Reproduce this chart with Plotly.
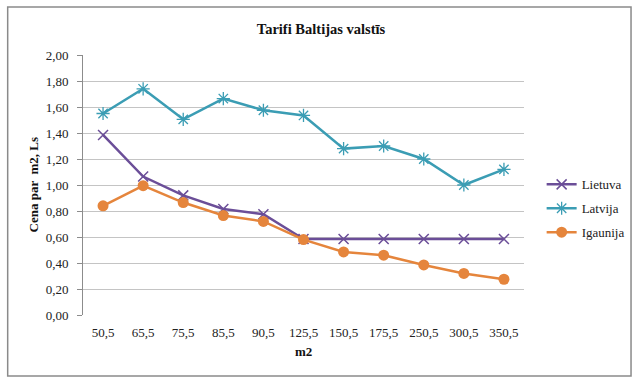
import plotly.graph_objects as go

categories = ["50,5", "65,5", "75,5", "85,5", "90,5", "125,5", "150,5", "175,5", "250,5", "300,5", "350,5"]
lietuva = [1.385, 1.065, 0.92, 0.815, 0.775, 0.585, 0.585, 0.585, 0.585, 0.585, 0.585]
latvija = [1.55, 1.74, 1.505, 1.665, 1.575, 1.535, 1.28, 1.30, 1.20, 1.00, 1.12]
igaunija = [0.84, 0.995, 0.865, 0.765, 0.72, 0.58, 0.485, 0.46, 0.385, 0.32, 0.275]
y_ticks = [0.0, 0.2, 0.4, 0.6, 0.8, 1.0, 1.2, 1.4, 1.6, 1.8, 2.0]

FONT = "Times New Roman"

fig = go.Figure()
fig.add_trace(go.Scatter(
    x=categories, y=lietuva, name="Lietuva", mode="lines+markers",
    line=dict(color="#6b4e98", width=2.5),
    marker=dict(symbol="x-thin-open", size=10, color="#6b4e98",
                line=dict(color="#6b4e98", width=1.5)),
    legendgroup="a"))
fig.add_trace(go.Scatter(
    x=categories, y=latvija, name="Latvija", mode="lines+markers",
    line=dict(color="#3b9db4", width=2.5),
    marker=dict(symbol="asterisk-open", size=11, color="#3b9db4",
                line=dict(color="#3b9db4", width=1.3)),
    legendgroup="b"))
fig.add_trace(go.Scatter(
    x=categories, y=igaunija, name="Igaunija", mode="lines+markers",
    line=dict(color="#e5853c", width=2.5),
    marker=dict(symbol="circle", size=11, color="#e5853c"),
    legendgroup="c"))

fig.update_layout(
    width=642, height=379,
    margin=dict(l=83, r=114, t=55, b=64),
    paper_bgcolor="white", plot_bgcolor="white",
    separators=", ",
    font=dict(family=FONT, size=13, color="#222"),
    title=dict(text="<b>Tarifi Baltijas valstīs</b>", x=0.5, xanchor="center",
               y=1 - 29 / 379, yanchor="middle",
               font=dict(family=FONT, size=14.5, color="#111")),
    showlegend=True,
    legend=dict(x=1.04, y=0.41, xanchor="left", yanchor="middle",
                font=dict(family=FONT, size=13, color="#222"),
                tracegroupgap=4, bgcolor="rgba(0,0,0,0)"),
    xaxis=dict(type="category", range=[-0.5, 10.5], showgrid=False,
               showline=False, ticks="", zeroline=False,
               ticklabelstandoff=8,
               tickfont=dict(family=FONT, size=13, color="#222")),
    yaxis=dict(range=[0, 2.0], tickvals=y_ticks, tickformat=".2f",
               showgrid=True, gridcolor="#c4c4c4", gridwidth=1,
               showline=True, linecolor="#8c8c8c", linewidth=1,
               ticks="outside", ticklen=5, tickcolor="#8c8c8c",
               zeroline=False, ticklabelstandoff=6,
               tickfont=dict(family=FONT, size=13, color="#222")),
    annotations=[
        dict(text="<b>m2</b>", xref="paper", yref="paper", x=0.5,
             y=-(351 - 315) / 260, xanchor="center", yanchor="middle",
             showarrow=False, font=dict(family=FONT, size=13, color="#111")),
        dict(text="<b>Cena par  m2, Ls</b>", xref="paper", yref="paper",
             x=(33 - 83) / 445, y=0.5, xanchor="center", yanchor="middle",
             textangle=-90, showarrow=False,
             font=dict(family=FONT, size=13, color="#111")),
    ],
    shapes=[
        dict(type="rect", xref="paper", yref="paper",
             x0=(7 - 83) / 445, x1=(636 - 83) / 445,
             y0=(315 - 376) / 260, y1=(315 - 7) / 260,
             line=dict(color="#8a8a8a", width=1.5), layer="below"),
    ],
)

fig.write_html("out.html", config={"displayModeBar": False},
               post_script="document.body.style.margin='0';")
